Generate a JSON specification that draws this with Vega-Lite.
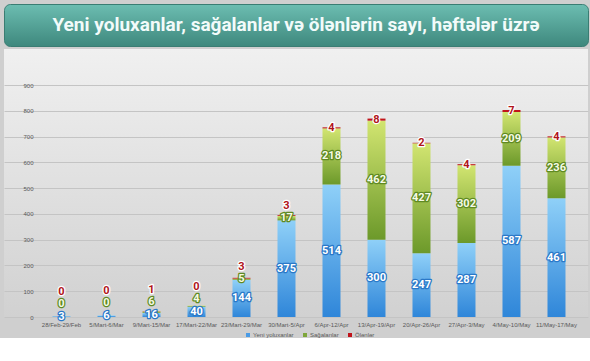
{
  "$schema": "https://vega.github.io/schema/vega-lite/v6.json",
  "background": "#cfcfcf",
  "padding": {"left": 3, "top": 3, "right": 3, "bottom": 0},
  "spacing": 2,
  "config": {"view": {"stroke": null}},
  "vconcat": [
    {
      "width": 584,
      "height": 42,
      "data": {"values": [{"t": "Yeni yoluxanlar, sağalanlar və ölənlərin sayı, həftələr üzrə"}]},
      "mark": {"type": "text", "font": "Roboto", "fontSize": 19, "fontWeight": "bold", "color": "#f2fbfa"},
      "encoding": {"text": {"field": "t"}},
      "view": {
        "fill": {"gradient": "linear", "x1": 0, "y1": 0, "x2": 0, "y2": 1, "stops": [{"offset": 0, "color": "#6cbdb1"}, {"offset": 1, "color": "#3e887d"}]},
        "stroke": "#3a7d73",
        "cornerRadius": 6
      }
    },
    {
      "width": 584,
      "height": 268,
      "view": {
        "fill": {"gradient": "linear", "x1": 0, "y1": 0, "x2": 0, "y2": 1, "stops": [{"offset": 0, "color": "#f0f0f0"}, {"offset": 1, "color": "#d1d1d1"}]}
      },
      "data": {"values": [
        {"week": "28/Feb-29/Feb", "Yeni yoluxanlar": 3, "Sağalanlar": 0, "Ölənlər": 0},
        {"week": "5/Mart-6/Mar", "Yeni yoluxanlar": 6, "Sağalanlar": 0, "Ölənlər": 0},
        {"week": "9/Mart-15/Mar", "Yeni yoluxanlar": 16, "Sağalanlar": 6, "Ölənlər": 1},
        {"week": "17/Mart-22/Mar", "Yeni yoluxanlar": 40, "Sağalanlar": 4, "Ölənlər": 0},
        {"week": "23/Mart-29/Mar", "Yeni yoluxanlar": 144, "Sağalanlar": 5, "Ölənlər": 3},
        {"week": "30/Mart-5/Apr", "Yeni yoluxanlar": 375, "Sağalanlar": 17, "Ölənlər": 3},
        {"week": "6/Apr-12/Apr", "Yeni yoluxanlar": 514, "Sağalanlar": 218, "Ölənlər": 4},
        {"week": "13/Apr-19/Apr", "Yeni yoluxanlar": 300, "Sağalanlar": 462, "Ölənlər": 8},
        {"week": "20/Apr-26/Apr", "Yeni yoluxanlar": 247, "Sağalanlar": 427, "Ölənlər": 2},
        {"week": "27/Apr-3/May", "Yeni yoluxanlar": 287, "Sağalanlar": 302, "Ölənlər": 4},
        {"week": "4/May-10/May", "Yeni yoluxanlar": 587, "Sağalanlar": 209, "Ölənlər": 7},
        {"week": "11/May-17/May", "Yeni yoluxanlar": 461, "Sağalanlar": 236, "Ölənlər": 4}
      ]},
      "transform": [
        {"calculate": "datum['Yeni yoluxanlar'] + datum['Sağalanlar']", "as": "g1"},
        {"calculate": "datum.g1 + datum['Ölənlər']", "as": "tot"},
        {"calculate": "datum['Yeni yoluxanlar'] / 2", "as": "lb"},
        {"calculate": "max(datum['Yeni yoluxanlar'] + datum['Sağalanlar'] / 2, datum.lb + 50)", "as": "lg"},
        {"calculate": "max(datum.g1 + datum['Ölənlər'] / 2, datum.lg + 47)", "as": "lr"}
      ],
      "encoding": {
        "x": {
          "field": "week", "type": "nominal", "sort": null, "title": null,
          "scale": {"paddingInner": 0.6, "paddingOuter": 0.789, "align": 0.683},
          "axis": {"labelAngle": 0, "ticks": false, "domain": false, "labelFontSize": 6, "labelColor": "#595959", "labelPadding": 4, "labelFont": "Liberation Sans"}
        }
      },
      "layer": [
        {
          "mark": {"type": "bar", "fill": {"gradient": "linear", "x1": 0, "y1": 0, "x2": 0, "y2": 1, "stops": [{"offset": 0, "color": "#8fd0f8"}, {"offset": 1, "color": "#2f86d9"}]}},
          "encoding": {
            "y": {
              "field": "Yeni yoluxanlar", "type": "quantitative", "title": null,
              "scale": {"domain": [0, 1040], "nice": false},
              "axis": {"values": [0, 100, 200, 300, 400, 500, 600, 700, 800, 900], "offset": -35, "domain": false, "ticks": false, "labelFontSize": 6, "labelColor": "#595959", "labelPadding": 6, "gridColor": "#c4c4c4", "labelFont": "Liberation Sans", "labelOverlap": false, "title": null}
            }
          }
        },
        {
          "mark": {"type": "bar", "fill": {"gradient": "linear", "x1": 0, "y1": 0, "x2": 0, "y2": 1, "stops": [{"offset": 0, "color": "#d2e571"}, {"offset": 1, "color": "#6c992a"}]}},
          "encoding": {
            "y": {"field": "g1", "type": "quantitative", "title": null, "axis": {"values": [0, 100, 200, 300, 400, 500, 600, 700, 800, 900], "offset": -35, "domain": false, "ticks": false, "labelFontSize": 6, "labelColor": "#595959", "labelPadding": 6, "gridColor": "#c4c4c4", "labelFont": "Liberation Sans", "labelOverlap": false, "title": null}},
            "y2": {"field": "Yeni yoluxanlar"}
          }
        },
        {
          "mark": {"type": "bar", "fill": "#c0141b"},
          "encoding": {
            "y": {"field": "tot", "type": "quantitative", "title": null, "axis": {"values": [0, 100, 200, 300, 400, 500, 600, 700, 800, 900], "offset": -35, "domain": false, "ticks": false, "labelFontSize": 6, "labelColor": "#595959", "labelPadding": 6, "gridColor": "#c4c4c4", "labelFont": "Liberation Sans", "labelOverlap": false, "title": null}},
            "y2": {"field": "g1"}
          }
        },
        {
          "transform": [{"fold": ["Yeni yoluxanlar", "Sağalanlar", "Ölənlər"], "as": ["series", "value"]}],
          "mark": {"type": "square", "opacity": 0, "size": 1},
          "encoding": {
            "y": {"datum": 0, "type": "quantitative", "title": null, "axis": {"values": [0, 100, 200, 300, 400, 500, 600, 700, 800, 900], "offset": -35, "domain": false, "ticks": false, "labelFontSize": 6, "labelColor": "#595959", "labelPadding": 6, "gridColor": "#c4c4c4", "labelFont": "Liberation Sans", "labelOverlap": false, "title": null}},
            "color": {
              "field": "series", "type": "nominal",
              "scale": {"domain": ["Yeni yoluxanlar", "Sağalanlar", "Ölənlər"], "range": ["#4a9be5", "#7ea63a", "#c0141b"]},
              "legend": {"title": null, "orient": "none", "legendX": 241, "legendY": 328, "direction": "horizontal", "labelFontSize": 6, "labelColor": "#595959", "symbolSize": 16, "symbolType": "square", "symbolOpacity": 1, "symbolStrokeWidth": 0, "columnPadding": 8, "labelFont": "Liberation Sans", "labelOffset": 2}
            }
          }
        },
        {
          "mark": {"type": "text", "font": "Roboto", "fontSize": 11, "fontWeight": "bold", "fill": "#2a78c8", "stroke": "#2a78c8", "strokeWidth": 2.5, "strokeJoin": "round"},
          "encoding": {"y": {"field": "lb", "type": "quantitative", "title": null, "axis": {"values": [0, 100, 200, 300, 400, 500, 600, 700, 800, 900], "offset": -35, "domain": false, "ticks": false, "labelFontSize": 6, "labelColor": "#595959", "labelPadding": 6, "gridColor": "#c4c4c4", "labelFont": "Liberation Sans", "labelOverlap": false, "title": null}}, "text": {"field": "Yeni yoluxanlar", "type": "quantitative"}}
        },
        {
          "mark": {"type": "text", "font": "Roboto", "fontSize": 11, "fontWeight": "bold", "fill": "#ffffff"},
          "encoding": {"y": {"field": "lb", "type": "quantitative", "title": null, "axis": {"values": [0, 100, 200, 300, 400, 500, 600, 700, 800, 900], "offset": -35, "domain": false, "ticks": false, "labelFontSize": 6, "labelColor": "#595959", "labelPadding": 6, "gridColor": "#c4c4c4", "labelFont": "Liberation Sans", "labelOverlap": false, "title": null}}, "text": {"field": "Yeni yoluxanlar", "type": "quantitative"}}
        },
        {
          "mark": {"type": "text", "font": "Roboto", "fontSize": 11, "fontWeight": "bold", "fill": "#5f8a22", "stroke": "#5f8a22", "strokeWidth": 2.5, "strokeJoin": "round"},
          "encoding": {"y": {"field": "lg", "type": "quantitative", "title": null, "axis": {"values": [0, 100, 200, 300, 400, 500, 600, 700, 800, 900], "offset": -35, "domain": false, "ticks": false, "labelFontSize": 6, "labelColor": "#595959", "labelPadding": 6, "gridColor": "#c4c4c4", "labelFont": "Liberation Sans", "labelOverlap": false, "title": null}}, "text": {"field": "Sağalanlar", "type": "quantitative"}}
        },
        {
          "mark": {"type": "text", "font": "Roboto", "fontSize": 11, "fontWeight": "bold", "fill": "#f6fae6"},
          "encoding": {"y": {"field": "lg", "type": "quantitative", "title": null, "axis": {"values": [0, 100, 200, 300, 400, 500, 600, 700, 800, 900], "offset": -35, "domain": false, "ticks": false, "labelFontSize": 6, "labelColor": "#595959", "labelPadding": 6, "gridColor": "#c4c4c4", "labelFont": "Liberation Sans", "labelOverlap": false, "title": null}}, "text": {"field": "Sağalanlar", "type": "quantitative"}}
        },
        {
          "mark": {"type": "text", "font": "Roboto", "fontSize": 11, "fontWeight": "bold", "fill": "#ffffff", "stroke": "#ffffff", "strokeWidth": 2.5, "strokeJoin": "round"},
          "encoding": {"y": {"field": "lr", "type": "quantitative", "title": null, "axis": {"values": [0, 100, 200, 300, 400, 500, 600, 700, 800, 900], "offset": -35, "domain": false, "ticks": false, "labelFontSize": 6, "labelColor": "#595959", "labelPadding": 6, "gridColor": "#c4c4c4", "labelFont": "Liberation Sans", "labelOverlap": false, "title": null}}, "text": {"field": "Ölənlər", "type": "quantitative"}}
        },
        {
          "mark": {"type": "text", "font": "Roboto", "fontSize": 11, "fontWeight": "bold", "fill": "#b0141a"},
          "encoding": {"y": {"field": "lr", "type": "quantitative", "title": null, "axis": {"values": [0, 100, 200, 300, 400, 500, 600, 700, 800, 900], "offset": -35, "domain": false, "ticks": false, "labelFontSize": 6, "labelColor": "#595959", "labelPadding": 6, "gridColor": "#c4c4c4", "labelFont": "Liberation Sans", "labelOverlap": false, "title": null}}, "text": {"field": "Ölənlər", "type": "quantitative"}}
        }
      ]
    }
  ]
}
